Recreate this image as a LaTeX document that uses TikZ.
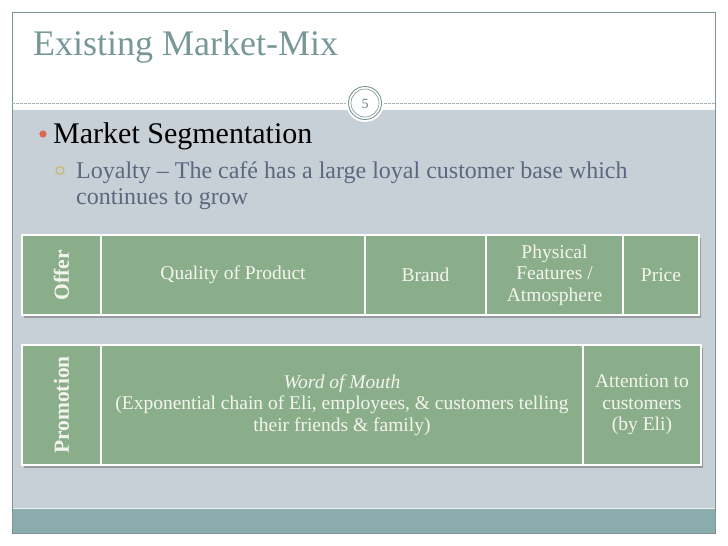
\documentclass[tikz,border=0pt]{standalone}
\usepackage{fontspec}
\setmainfont{Liberation Serif}
\definecolor{frameC}{RGB}{125,148,148}
\definecolor{titleC}{RGB}{120,152,152}
\definecolor{bandC}{RGB}{198,208,214}
\definecolor{tealC}{RGB}{138,172,172}
\definecolor{boxC}{RGB}{139,174,138}
\definecolor{boxT}{RGB}{244,244,238}
\definecolor{redC}{RGB}{217,104,80}
\definecolor{yelC}{RGB}{200,184,90}
\definecolor{subC}{RGB}{90,104,128}
\definecolor{numC}{RGB}{110,130,130}
\tikzset{
  cell/.style={draw=white, line width=1.6pt, fill=boxC, text=boxT, anchor=north west,
    inner sep=0pt, outer sep=0pt, align=center, font=\fontsize{19.5}{21.5}\selectfont},
  sidecell/.style={cell, font=\fontsize{21.5}{24}\selectfont\bfseries},
  shade/.style={fill=black!70, opacity=0.4}
}
\begin{document}
\begin{tikzpicture}[x=1pt,y=-1pt]
\useasboundingbox (0,0) rectangle (728,546);
\fill[white] (0,0) rectangle (728,546);
% bands
\fill[bandC] (12.3,110) rectangle (715.3,508);
\fill[tealC] (12.3,508) rectangle (715.3,533);
\draw[white!85!tealC, line width=0.8pt] (12.3,508.5) -- (715.3,508.5);
\draw[frameC, line width=1pt] (12.3,12.3) rectangle (715.3,533);
% dashed rule and page number
\draw[frameC!70, dash pattern=on 2.5pt off 1.5pt, line width=0.5pt] (12.3,103) -- (715.3,103);
\fill[white] (365,103) circle (19);
\draw[frameC, line width=0.9pt] (365,103) circle (16.5);
\draw[frameC, line width=0.6pt] (365,103) circle (14);
\node[text=numC, font=\fontsize{14}{16}\selectfont] (num) at (365,103.5) {5};
% title
\node[anchor=base west, inner sep=0pt, text=titleC, font=\fontsize{36}{40}\selectfont] (title) at (33,55) {Existing Market-Mix};
% bullets
\fill[redC] (43,134) circle (3.6);
\node[anchor=base west, inner sep=0pt, font=\fontsize{30}{34}\selectfont] (seg) at (53,143) {Market Segmentation};
\draw[yelC, line width=1pt] (60,170.5) circle (4);
\node[anchor=base west, inner sep=0pt, text=subC, font=\fontsize{24}{26}\selectfont] (loy1) at (76,178) {Loyalty -- The café has a large loyal customer base which};
\node[anchor=base west, inner sep=0pt, text=subC, font=\fontsize{24}{26}\selectfont] (loy2) at (76,204) {continues to grow};
% shadows
\fill[shade] (24,238) rectangle (700.5,318);
\fill[shade] (24,348) rectangle (702.5,468);
% row 1
\node[sidecell, minimum width=79pt, minimum height=80pt] (offer) at (22,235) {\rotatebox{90}{Offer}};
\node[cell, minimum width=264pt, minimum height=80pt] (quality) at (offer.north east) {Quality of Product};
\node[cell, minimum width=121pt, minimum height=80pt] (brand) at (quality.north east) {Brand};
\node[cell, minimum width=137pt, minimum height=80pt] (phys) at (brand.north east) {Physical\\Features /\\Atmosphere};
\node[cell, minimum width=76pt, minimum height=80pt] (price) at (phys.north east) {Price};
% row 2
\node[sidecell, minimum width=79pt, minimum height=120pt] (promo) at (22,345) {\rotatebox{90}{Promotion}};
\node[cell, minimum width=482pt, minimum height=120pt] (wom) at (promo.north east) {\textit{Word of Mouth}\\(Exponential chain of Eli, employees, \& customers telling\\their friends \& family)};
\node[cell, minimum width=118pt, minimum height=120pt] (att) at (wom.north east) {Attention to\\customers\\(by Eli)};
\end{tikzpicture}
\end{document}
